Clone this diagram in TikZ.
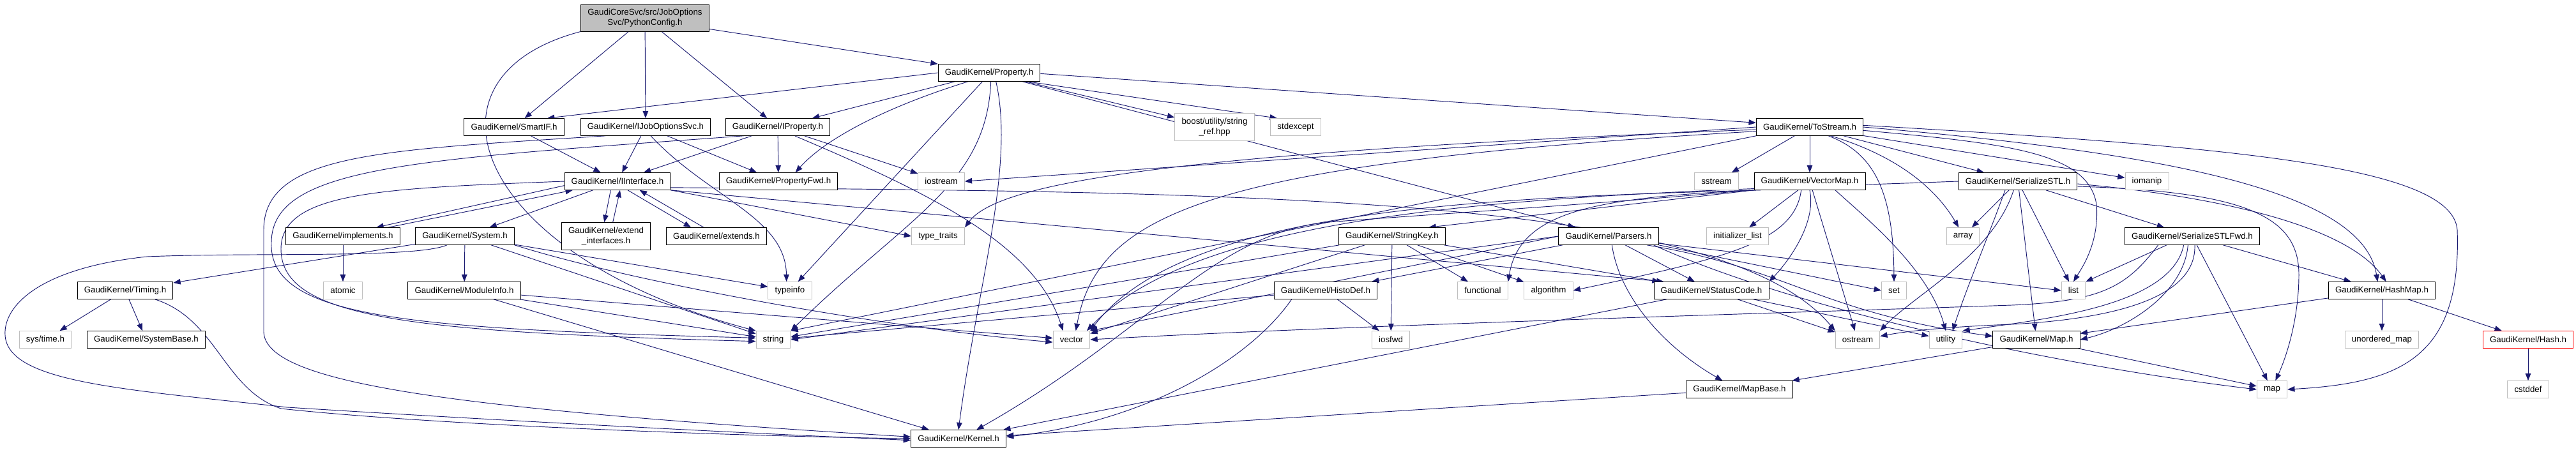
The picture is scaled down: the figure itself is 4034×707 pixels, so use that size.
\documentclass[tikz,border=0pt]{standalone}
\usepackage{fontspec}
\setmainfont{Liberation Sans}
\usetikzlibrary{arrows.meta,backgrounds}
\definecolor{edgeblue}{HTML}{191970}
\definecolor{stdgray}{HTML}{BFBFBF}

\begin{document}
\begin{tikzpicture}[x=0.75pt,y=-0.75pt,
    hdrbox/.style={draw=black, fill=white, line width=0.75pt, font=\fontsize{10}{12}\selectfont,
      inner xsep=8pt, inner ysep=0pt, minimum height=20pt},
    stdbox/.style={hdrbox, draw=stdgray},
    rootbox/.style={hdrbox, fill=stdgray, align=center, minimum height=31.5pt},
    cutbox/.style={hdrbox, draw=red},
    dep/.style={draw=edgeblue, line width=0.7pt, -{Triangle[length=8.5pt,width=6.5pt]}}]
  \useasboundingbox (0,0) rectangle (4034,707);

  % rank 0 and 1
  \node[rootbox] (root) at (1010,28) {GaudiCoreSvc/src/JobOptions\\Svc/PythonConfig.h};
  \node[hdrbox] (prop) at (1549,114) {GaudiKernel/Property.h};
  % rank 2
  \node[hdrbox] (smartif) at (805,199) {GaudiKernel/SmartIF.h};
  \node[hdrbox] (jobsvc) at (1011,199) {GaudiKernel/IJobOptionsSvc.h};
  \node[hdrbox] (iprop) at (1218,199) {GaudiKernel/IProperty.h};
  \node[stdbox, align=center, minimum height=32pt] (boost) at (1902,199) {boost/utility/string\\\_ref.hpp};
  \node[stdbox] (stdexcept) at (2029,199) {stdexcept};
  \node[hdrbox] (tostream) at (2834,199) {GaudiKernel/ToStream.h};
  % rank 3
  \node[hdrbox] (iface) at (967,284) {GaudiKernel/IInterface.h};
  \node[hdrbox] (propfwd) at (1219,284) {GaudiKernel/PropertyFwd.h};
  \node[stdbox] (iostream) at (1474,284) {iostream};
  \node[stdbox] (sstream) at (2688,284) {sstream};
  \node[hdrbox] (vmap) at (2834,284) {GaudiKernel/VectorMap.h};
  \node[hdrbox] (sstl) at (3160,284) {GaudiKernel/SerializeSTL.h};
  \node[stdbox] (iomanip) at (3362,284) {iomanip};
  % rank 4
  \node[hdrbox] (impl) at (537,370) {GaudiKernel/implements.h};
  \node[hdrbox] (system) at (728,370) {GaudiKernel/System.h};
  \node[hdrbox, align=center, minimum height=32pt] (extif) at (949,370) {GaudiKernel/extend\\\_interfaces.h};
  \node[hdrbox] (extends) at (1122,370) {GaudiKernel/extends.h};
  \node[stdbox] (traits) at (1469,370) {type\_traits};
  \node[hdrbox] (strkey) at (2180,370) {GaudiKernel/StringKey.h};
  \node[hdrbox] (parsers) at (2519,370) {GaudiKernel/Parsers.h};
  \node[stdbox] (initlist) at (2721,370) {initializer\_list};
  \node[stdbox] (array) at (3074,370) {array};
  \node[hdrbox] (sfwd) at (3433,370) {GaudiKernel/SerializeSTLFwd.h};
  % rank 5
  \node[hdrbox] (timing) at (196,455) {GaudiKernel/Timing.h};
  \node[stdbox] (atomic) at (537,455) {atomic};
  \node[hdrbox] (modinfo) at (727,455) {GaudiKernel/ModuleInfo.h};
  \node[stdbox] (typeinfo) at (1237,455) {typeinfo};
  \node[hdrbox] (histo) at (2076,455) {GaudiKernel/HistoDef.h};
  \node[stdbox] (functional) at (2322,455) {functional};
  \node[stdbox] (algorithm) at (2425,455) {algorithm};
  \node[hdrbox] (status) at (2680,455) {GaudiKernel/StatusCode.h};
  \node[stdbox] (set) at (2966,455) {set};
  \node[stdbox] (list) at (3247,455) {list};
  \node[hdrbox] (hashmap) at (3730,455) {GaudiKernel/HashMap.h};
  % rank 6
  \node[stdbox] (systime) at (71,532) {sys/time.h};
  \node[hdrbox] (sysbase) at (229,532) {GaudiKernel/SystemBase.h};
  \node[stdbox] (string) at (1211,532) {string};
  \node[stdbox] (vector) at (1678,532) {vector};
  \node[stdbox] (iosfwd) at (2178,532) {iosfwd};
  \node[stdbox] (ostream) at (2909,532) {ostream};
  \node[stdbox] (utility) at (3047,532) {utility};
  \node[hdrbox] (gmap) at (3189,532) {GaudiKernel/Map.h};
  \node[stdbox] (umap) at (3730,532) {unordered\_map};
  \node[cutbox] (hash) at (3959,532) {GaudiKernel/Hash.h};
  % rank 7 and 8
  \node[hdrbox] (mapbase) at (2724,610) {GaudiKernel/MapBase.h};
  \node[stdbox] (map) at (3558,610) {map};
  \node[stdbox] (cstddef) at (3959,610) {cstddef};
  \node[hdrbox] (kernel) at (1501,687) {GaudiKernel/Kernel.h};

  \begin{pgfonlayer}{background}
    % PythonConfig.h
    \draw[dep] (root) -- (smartif);
    \draw[dep] (root) -- (jobsvc);
    \draw[dep] (root) -- (iprop);
    \draw[dep] ([yshift=3pt]root.south east) -- (prop.north west);
    \draw[dep] (root.south west) .. controls (640,120) and (740,400) .. (string.north west);
    % Property.h
    \draw[dep] (prop.west) -- ([xshift=-20pt]smartif.north east);
    \draw[dep] (prop) -- (iprop);
    \draw[dep] ([xshift=-25pt]prop.south) .. controls (1380,170) and (1290,220) .. ([xshift=20pt]propfwd.north);
    \draw[dep] (prop) -- (boost);
    \draw[dep] ([xshift=-15pt]prop.south east) -- ([xshift=8pt]stdexcept.north west);
    \draw[dep] ([yshift=-1pt]prop.east) -- ([yshift=5pt]tostream.west);
    \draw[dep] (prop) -- (parsers);
    \draw[dep] ([xshift=-8pt]prop.south) -- (typeinfo);
    \draw[dep] ([xshift=2pt]prop.south) .. controls (1545,290) and (1420,340) .. (string.north east);
    \draw[dep] ([xshift=8pt]prop.south) .. controls (1590,260) and (1530,450) .. (kernel.north);
    % SmartIF.h, IJobOptionsSvc.h, IProperty.h
    \draw[dep] (smartif) -- (iface);
    \draw[dep] (jobsvc) -- (iface);
    \draw[dep] (jobsvc) -- (propfwd);
    \draw[dep] ([xshift=6pt]jobsvc.south) .. controls (1110,310) and (1230,340) .. ([xshift=-4pt]typeinfo.north);
    \draw[dep] ([xshift=-47pt]jobsvc.south) .. controls (600,235) and (413,240) .. (413,360)
      -- (413,520) .. controls (416,600) and (700,640) .. ([yshift=2pt]kernel.west);
    \draw[dep] (iprop) -- (iface);
    \draw[dep] (iprop) -- (propfwd);
    \draw[dep] (iprop) -- (iostream);
    \draw[dep] ([xshift=20pt]iprop.south) .. controls (1450,300) and (1620,380) .. ([xshift=-10pt]vector.north);
    \draw[dep] ([xshift=-40pt]iprop.south) .. controls (650,250) and (425,260) .. (425,380)
      .. controls (420,500) and (650,515) .. ([yshift=2pt]string.west);
    % IInterface.h
    \draw[dep] ([yshift=-5pt]iface.west) -- ([xshift=-28pt]impl.north east);
    \draw[dep] ([xshift=-14pt]impl.north east) -- ([xshift=10pt]iface.south west);
    \draw[dep] (iface) -- (system);
    \draw[dep] ([xshift=-8pt]iface.south) -- ([xshift=-2pt]extif.north);
    \draw[dep] ([xshift=8pt]extif.north) -- ([xshift=3pt]iface.south);
    \draw[dep] ([xshift=12pt]iface.south) -- ([xshift=-30pt]extends.north);
    \draw[dep] ([xshift=-15pt]extends.north) -- ([xshift=26pt]iface.south);
    \draw[dep] (iface.south east) -- (traits.west);
    \draw[dep] (iface.south east) -- ([xshift=12pt]status.north west);
    \draw[dep] ([yshift=3pt]iface.south east) .. controls (2000,300) and (2700,310) .. (ostream.north west);
    \draw[dep] (iface.west) .. controls (600,295) and (440,300) .. (440,390)
      .. controls (440,500) and (650,520) .. ([yshift=-2pt]string.west);
    \draw[dep] (impl) -- (atomic);
    % System.h, Timing.h, ModuleInfo.h
    \draw[dep] (system) -- (timing);
    \draw[dep] (system) -- (modinfo);
    \draw[dep] (system) -- (typeinfo);
    \draw[dep] (system) -- (string);
    \draw[dep] (system.south east) .. controls (1000,445) and (1400,515) .. ([yshift=-3pt]vector.west);
    \draw[dep] ([xshift=-21pt]system.south) .. controls (650,405) and (400,395) .. (230,402)
      .. controls (60,420) and (5,480) .. (8,525) .. controls (12,600) and (200,610) .. (450,638)
      .. controls (800,660) and (1200,680) .. ([yshift=-2pt]kernel.west);
    \draw[dep] (timing) -- (systime);
    \draw[dep] (timing) -- (sysbase);
    \draw[dep] ([xshift=35pt]timing.south) .. controls (340,500) and (350,610) .. (440,640)
      .. controls (700,668) and (1200,684) .. (kernel.west);
    \draw[dep] (modinfo) -- (string);
    \draw[dep] (modinfo) -- (vector);
    \draw[dep] (modinfo) -- (kernel);
    % ToStream.h
    \draw[dep] (tostream.west) -- (iostream.east);
    \draw[dep] ([yshift=-3pt]tostream.west) .. controls (1800,240) and (1560,290) .. (traits.north east);
    \draw[dep] ([yshift=-5pt]tostream.west) .. controls (1900,255) and (1720,330) .. ([xshift=5pt]vector.north);
    \draw[dep] (tostream.south west) -- (string.north east);
    \draw[dep] (tostream) -- (sstream);
    \draw[dep] (tostream) -- (vmap);
    \draw[dep] (tostream) -- (sstl);
    \draw[dep] (tostream) -- (iomanip);
    \draw[dep] ([xshift=22pt]tostream.south) .. controls (2935,240) and (2965,300) .. (set.north);
    \draw[dep] ([xshift=25pt]tostream.south) .. controls (2990,250) and (3040,310) .. ([xshift=-5pt]array.north);
    \draw[dep] ([yshift=-4pt]tostream.east) .. controls (3150,225) and (3270,240) .. (3283,320)
      .. controls (3288,380) and (3260,420) .. (list.north);
    \draw[dep] (tostream.east) .. controls (3400,240) and (3700,300) .. ([xshift=-5pt]hashmap.north);
    \draw[dep] ([yshift=2pt]tostream.east) .. controls (3500,230) and (3840,260) .. (3848,360)
      .. controls (3855,560) and (3760,600) .. (map.east);
    % VectorMap.h
    \draw[dep] (vmap) -- (initlist);
    \draw[dep] (vmap.south west) .. controls (2500,310) and (2380,330) .. (functional.north east);
    \draw[dep] ([xshift=-10pt]vmap.south) .. controls (2810,380) and (2700,405) .. (algorithm.east);
    \draw[dep] (vmap) -- (ostream);
    \draw[dep] ([xshift=30pt]vmap.south) .. controls (2920,340) and (3020,420) .. (utility.north);
    \draw[dep] ([xshift=8pt]vmap.south west) .. controls (2300,310) and (1850,330) .. (vector.north east);
    \draw[dep] (vmap.south) .. controls (2845,350) and (2800,410) .. (status.north east);
    \draw[dep] (vmap.south west) -- ([xshift=-20pt]strkey.north east);
    \draw[dep] ([xshift=-4pt]vmap.south west) .. controls (2500,320) and (2250,335) .. (2080,348)
      .. controls (1900,365) and (1800,520) .. ([xshift=-35pt]kernel.north east);
    % SerializeSTL.h, SerializeSTLFwd.h
    \draw[dep] (sstl) -- (array);
    \draw[dep] ([xshift=-5pt]sstl.south) .. controls (3120,400) and (3000,460) .. (ostream.north east);
    \draw[dep] (sstl) -- (gmap);
    \draw[dep] (sstl) -- (list);
    \draw[dep] (sstl) -- (sfwd);
    \draw[dep] ([yshift=-3pt]sstl.east) .. controls (3500,310) and (3680,360) .. ([xshift=5pt]hashmap.north);
    \draw[dep] ([yshift=-6pt]sstl.east) .. controls (3520,300) and (3600,340) .. (3600,430)
      .. controls (3600,500) and (3580,560) .. ([xshift=4pt]map.north);
    \draw[dep] ([xshift=-15pt]sstl.south) .. controls (3110,380) and (3080,450) .. ([xshift=8pt]utility.north);
    \draw[dep] (sstl.west) .. controls (2500,305) and (1900,310) .. ([xshift=-4pt]vector.north east);
    \draw[dep] (sfwd) -- (hashmap);
    \draw[dep] (sfwd) -- (map);
    \draw[dep] ([xshift=-30pt]sfwd.south) -- (list.north east);
    \draw[dep] ([xshift=-5pt]sfwd.south) .. controls (3420,460) and (3330,515) .. (gmap.east);
    \draw[dep] ([xshift=3pt]sfwd.south) .. controls (3440,470) and (3300,500) .. (3150,508)
      .. controls (3050,512) and (2990,518) .. ([yshift=4pt]ostream.east);
    \draw[dep] ([xshift=-10pt]sfwd.south) .. controls (3400,480) and (3200,500) .. (utility.north east);
    \draw[dep] ([xshift=-40pt]sfwd.south) .. controls (3330,450) and (3290,472) .. (3150,478)
      .. controls (2800,490) and (2100,510) .. (vector.east);
    % HashMap.h, Hash.h, Map.h, MapBase.h
    \draw[dep] (hashmap) -- (gmap);
    \draw[dep] (hashmap) -- (umap);
    \draw[dep] (hashmap) -- (hash);
    \draw[dep] (hash) -- (cstddef);
    \draw[dep] (gmap) -- (map);
    \draw[dep] (gmap) -- (mapbase);
    \draw[dep] (mapbase) -- (kernel);
    % StatusCode.h, StringKey.h, HistoDef.h
    \draw[dep] (status) -- (kernel);
    \draw[dep] (status) -- (ostream);
    \draw[dep] (status) -- (utility);
    \draw[dep] (strkey) -- (iosfwd);
    \draw[dep] (strkey) -- (functional);
    \draw[dep] (strkey) -- (algorithm);
    \draw[dep] (strkey) -- (status);
    \draw[dep] (strkey) -- (string);
    \draw[dep] (strkey) -- (vector);
    \draw[dep] (histo) -- (iosfwd);
    \draw[dep] (histo) -- (string);
    \draw[dep] ([xshift=-40pt]histo.south) .. controls (1960,560) and (1800,660) .. ([yshift=2pt]kernel.east);
    % Parsers.h
    \draw[dep] (parsers) -- (status);
    \draw[dep] (parsers) -- (histo);
    \draw[dep] (parsers.west) -- (string.east);
    \draw[dep] (parsers.west) -- (vector.north east);
    \draw[dep] ([yshift=2pt]parsers.south east) -- (list.west);
    \draw[dep] (parsers.south east) -- (set.west);
    \draw[dep] ([xshift=-6pt]parsers.south east) .. controls (2800,480) and (3200,570) .. (map.west);
    \draw[dep] ([xshift=-14pt]parsers.south east) .. controls (2800,420) and (2850,490) .. ([yshift=4pt]gmap.west);
    \draw[dep] ([xshift=4pt]parsers.south) .. controls (2535,460) and (2600,540) .. ([xshift=-20pt]mapbase.north);
  \end{pgfonlayer}
\end{tikzpicture}
\end{document}
